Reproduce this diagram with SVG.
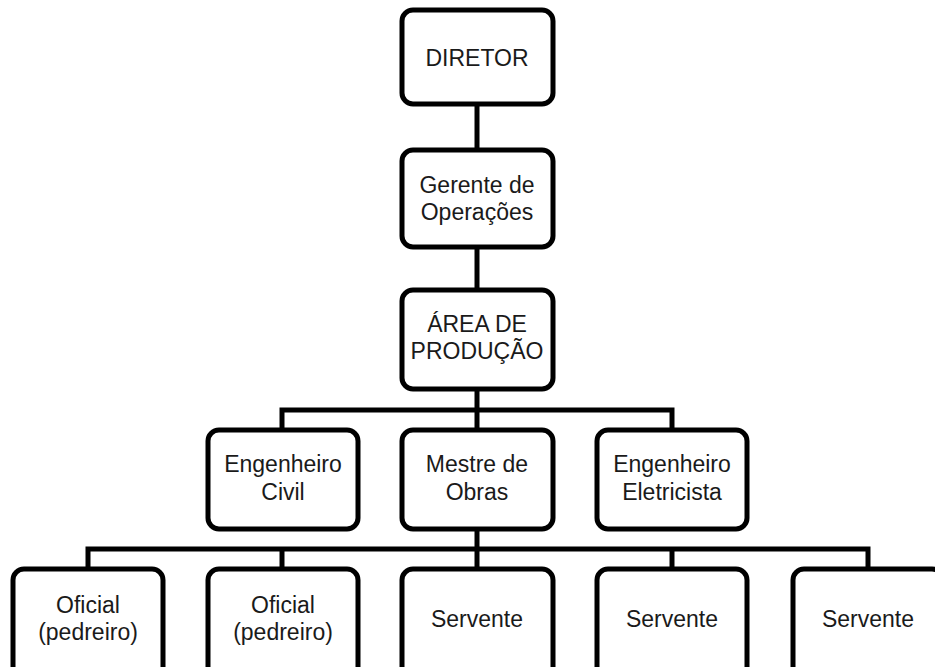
<svg xmlns="http://www.w3.org/2000/svg" width="935" height="667" viewBox="0 0 935 667">
<style>
.box{fill:#fff;stroke:#000;stroke-width:5}
.con{fill:none;stroke:#000;stroke-width:5;stroke-linejoin:miter;stroke-linecap:butt}
text{font-family:"Liberation Sans",Arial,sans-serif;font-size:23px;fill:#1a1a1a;text-anchor:middle}
</style>
<rect width="935" height="667" fill="#fff"/>
<g id="connectors">
<path class="con" d="M477 104V150"/>
<path class="con" d="M477 247V290"/>
<path class="con" d="M477 389V430"/>
<path class="con" d="M282 430V410H672V430"/>
<path class="con" d="M477 529V569"/>
<path class="con" d="M88 569V549H868V569"/>
<path class="con" d="M282 549V569"/>
<path class="con" d="M672 549V569"/>
</g>
<g id="diretor"><rect class="box" x="402" y="10" width="151" height="94" rx="11"/><text x="477" y="66">DIRETOR</text></g>
<g id="gerente"><rect class="box" x="402" y="150" width="151" height="97" rx="11"/><text x="477" y="193">Gerente de</text><text x="477" y="220">Operações</text></g>
<g id="area"><rect class="box" x="402" y="290" width="151" height="99" rx="11"/><text x="477" y="332">ÁREA DE</text><text x="477" y="359">PRODUÇÃO</text></g>
<g id="eng-civil"><rect class="box" x="208" y="430" width="150" height="99" rx="11"/><text x="283" y="472">Engenheiro</text><text x="283" y="500">Civil</text></g>
<g id="mestre"><rect class="box" x="402" y="430" width="151" height="99" rx="11"/><text x="477" y="472">Mestre de</text><text x="477" y="500">Obras</text></g>
<g id="eng-eletricista"><rect class="box" x="597" y="430" width="150" height="99" rx="11"/><text x="672" y="472">Engenheiro</text><text x="672" y="500">Eletricista</text></g>
<g id="oficial1"><rect class="box" x="13" y="569" width="150" height="110" rx="11"/><text x="88" y="613">Oficial</text><text x="88" y="640">(pedreiro)</text></g>
<g id="oficial2"><rect class="box" x="208" y="569" width="150" height="110" rx="11"/><text x="283" y="613">Oficial</text><text x="283" y="640">(pedreiro)</text></g>
<g id="servente1"><rect class="box" x="402" y="569" width="151" height="110" rx="11"/><text x="477" y="627">Servente</text></g>
<g id="servente2"><rect class="box" x="597" y="569" width="150" height="110" rx="11"/><text x="672" y="627">Servente</text></g>
<g id="servente3"><rect class="box" x="793" y="569" width="150" height="110" rx="11"/><text x="868" y="627">Servente</text></g>
</svg>
